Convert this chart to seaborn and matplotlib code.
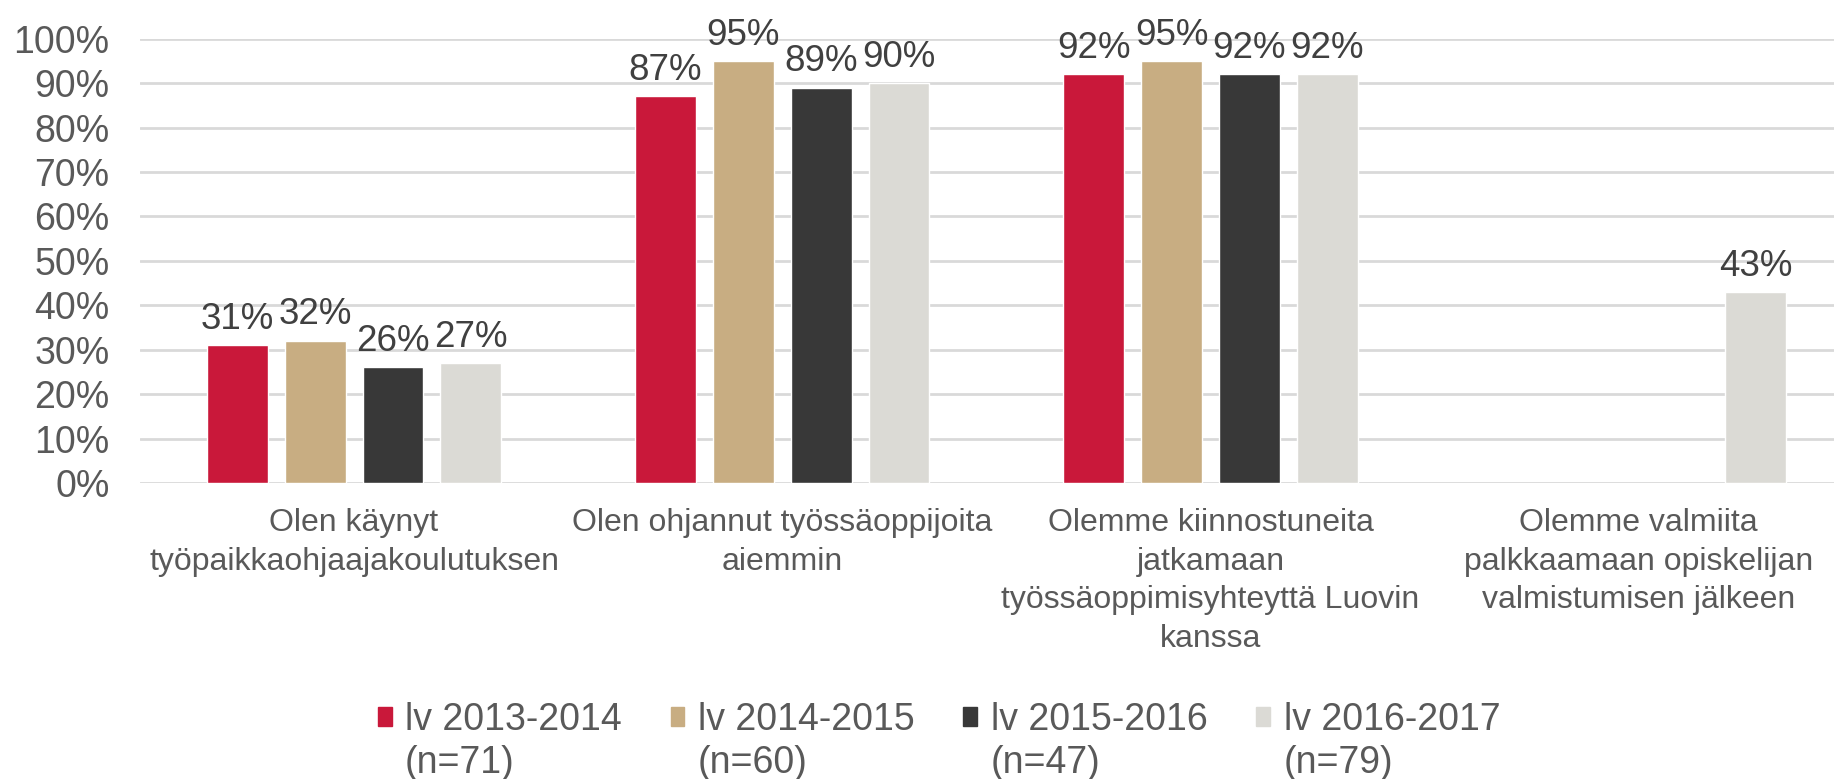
import matplotlib
matplotlib.use("Agg")
import matplotlib.pyplot as plt
import seaborn as sns
import pandas as pd
import numpy as np

categories = [
    "Olen käynyt\ntyöpaikkaohjaajakoulutuksen",
    "Olen ohjannut työssäoppijoita\naiemmin",
    "Olemme kiinnostuneita\njatkamaan\ntyössäoppimisyhteyttä Luovin\nkanssa",
    "Olemme valmiita\npalkkaamaan opiskelijan\nvalmistumisen jälkeen",
]
series = ["lv 2013-2014\n(n=71)", "lv 2014-2015\n(n=60)", "lv 2015-2016\n(n=47)", "lv 2016-2017\n(n=79)"]
v_2013 = [31, 87, 92, np.nan]
v_2014 = [32, 95, 95, np.nan]
v_2015 = [26, 89, 92, np.nan]
v_2016 = [27, 90, 92, 43]
colors = ["#C9183A", "#C8AD82", "#383838", "#DBDAD5"]

rows = []
for s, vals in zip(series, [v_2013, v_2014, v_2015, v_2016]):
    for c, v in zip(categories, vals):
        rows.append({"cat": c, "series": s, "value": v})
df = pd.DataFrame(rows).dropna()

sns.set_theme(style="white")
plt.rcParams["font.family"] = ["Liberation Sans", "DejaVu Sans"]

fig = plt.figure(figsize=(18.34, 7.79), dpi=100)
ax = fig.add_axes([0.0763, 0.380, 0.9237, 0.5704])

sns.barplot(data=df, x="cat", y="value", hue="series", order=categories,
            hue_order=series, palette=colors, width=0.727, gap=0.218,
            saturation=1, errorbar=None, ax=ax, legend=True)

ax.set_ylim(0, 100)
ax.set_xlim(-0.5, 3.456)
ax.set_yticks(range(0, 101, 10))
ax.set_yticklabels([f"{t}%" for t in range(0, 101, 10)])
ax.yaxis.grid(True, color="#D9D9D9", linewidth=2)
ax.set_axisbelow(True)
for sp in ax.spines.values():
    sp.set_visible(False)
ax.set_xlabel("")
ax.set_ylabel("")
ax.tick_params(axis="y", length=0, pad=22, labelsize=27, labelcolor="#595959")
ax.tick_params(axis="x", length=0, pad=18, labelsize=23, labelcolor="#595959")
for lbl in ax.get_xticklabels():
    lbl.set_linespacing(1.38)

for cont in ax.containers:
    ax.bar_label(cont, labels=[f"{b.get_height():.0f}%" for b in cont],
                 padding=6, fontsize=26.5, color="#404040")

ax.get_legend().remove()
handles = [plt.Rectangle((0, 0), 1, 1, color=c) for c in colors]
leg = fig.legend(handles, series, loc="center", bbox_to_anchor=(0.512, 0.048),
                 ncol=4, frameon=False, fontsize=27, handlelength=0.37,
                 handleheight=0.37, handletextpad=0.36, columnspacing=1.3,
                 labelcolor="#595959")
for t in leg.get_texts():
    t.set_linespacing(1.27)
for p in leg.get_patches():
    p.set_y(p.get_y() + 18.5)

fig.savefig("out.png", dpi=100, facecolor="white")
